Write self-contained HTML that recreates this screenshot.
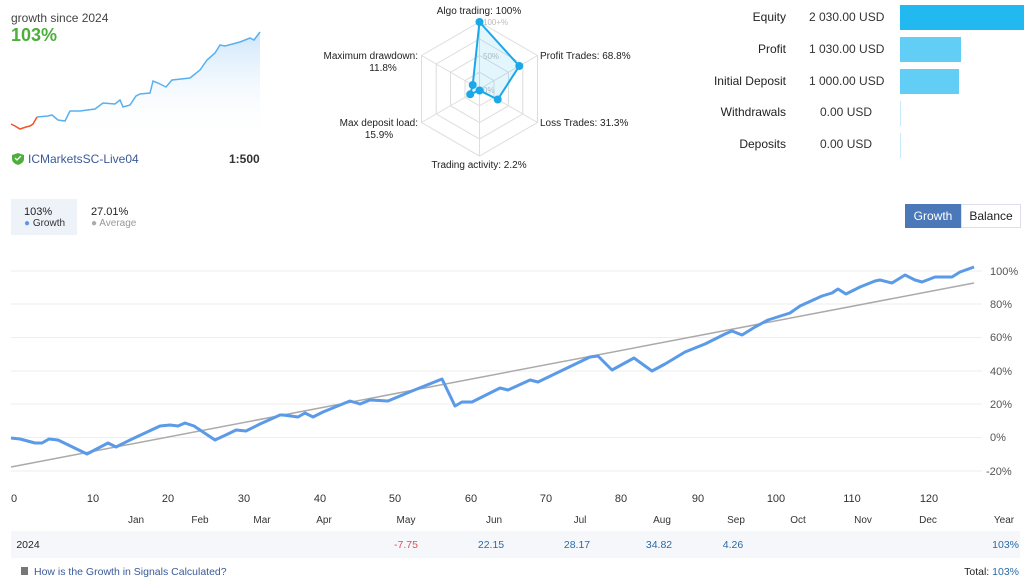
<!DOCTYPE html>
<html><head><meta charset="utf-8"><style>
body{margin:0;width:1024px;height:584px;background:#fff;font-family:"Liberation Sans","DejaVu Sans",sans-serif;color:#222;position:relative;overflow:hidden}
.a{position:absolute;white-space:nowrap}
.r{text-align:right}
</style></head><body>
<div class="a" style="left:11px;top:11px;font-size:12px;color:#444">growth since 2024</div>
<div class="a" style="left:11px;top:25px;font-size:18px;font-weight:bold;color:#4caf3a">103%</div>
<div class="a" style="left:28px;top:152px;font-size:12px;color:#3a5a9a">ICMarketsSC-Live04</div>
<div class="a" style="left:229px;top:152px;font-size:12px;font-weight:bold;color:#333">1:500</div>

<div class="a r" style="left:680px;top:10px;width:106px;font-size:12px">Equity</div>
<div class="a r" style="left:680px;top:42px;width:106px;font-size:12px">Profit</div>
<div class="a r" style="left:680px;top:74px;width:106px;font-size:12px">Initial Deposit</div>
<div class="a r" style="left:680px;top:105px;width:106px;font-size:12px">Withdrawals</div>
<div class="a r" style="left:680px;top:137px;width:106px;font-size:12px">Deposits</div>
<div class="a" style="left:809px;top:10px;font-size:12px;color:#333">2 030.00 USD</div>
<div class="a" style="left:809px;top:42px;font-size:12px;color:#333">1 030.00 USD</div>
<div class="a" style="left:809px;top:74px;font-size:12px;color:#333">1 000.00 USD</div>
<div class="a" style="left:820px;top:105px;font-size:12px;color:#333">0.00 USD</div>
<div class="a" style="left:820px;top:137px;font-size:12px;color:#333">0.00 USD</div>
<div class="a" style="left:900px;top:5px;width:124px;height:25px;background:#22b8f0"></div>
<div class="a" style="left:900px;top:37px;width:61px;height:25px;background:#62cdf5"></div>
<div class="a" style="left:900px;top:69px;width:59px;height:25px;background:#62cdf5"></div>
<div class="a" style="left:900px;top:101px;width:1px;height:25px;background:#c8ecfb"></div>
<div class="a" style="left:900px;top:133px;width:1px;height:25px;background:#c8ecfb"></div>

<div class="a" style="left:905px;top:204px;width:56px;height:24px;background:#4a78b8;color:#fff;font-size:12px;line-height:24px;text-align:center">Growth</div>
<div class="a" style="left:961px;top:204px;width:58px;height:22px;border:1px solid #dde;color:#222;font-size:12px;line-height:22px;text-align:center">Balance</div>

<div class="a" style="left:11px;top:199px;width:66px;height:36px;background:#eef3fa"></div>
<div class="a" style="left:24px;top:206px;font-size:11px">103%</div>
<div class="a" style="left:24px;top:218px;font-size:10px;color:#333"><span style="color:#5a9ae8">●</span> Growth</div>
<div class="a" style="left:91px;top:206px;font-size:11px">27.01%</div>
<div class="a" style="left:91px;top:218px;font-size:10px;color:#999"><span style="color:#aaa">●</span> Average</div>

<svg class="a" style="left:0;top:0" width="1024" height="584" font-family="Liberation Sans, DejaVu Sans, sans-serif">
<defs><linearGradient id="g" x1="0" y1="0" x2="0" y2="1"><stop offset="0" stop-color="#cfe6fa"/><stop offset="1" stop-color="#fff" stop-opacity="0"/></linearGradient></defs>
<path d="M37,117 L48,116 52,115 58,120 65,121 70,111 80,111 95,109 103,103 115,104 120,100 123,107 130,105 136,96 140,94 150,93 153,81 158,83 166,87 172,80 190,78 200,70 207,60 215,53 220,45 225,46 240,42 250,38 254,40 260,32 L260,140 L37,140Z" fill="url(#g)"/>
<polyline points="11,124 15,126 20,129 26,127 30,126 33,124 37,117" fill="none" stroke="#f0522a" stroke-width="1.5"/>
<polyline points="37,117 48,116 52,115 58,120 65,121 70,111 80,111 95,109 103,103 115,104 120,100 123,107 130,105 136,96 140,94 150,93 153,81 158,83 166,87 172,80 190,78 200,70 207,60 215,53 220,45 225,46 240,42 250,38 254,40 260,32" fill="none" stroke="#5ab0ee" stroke-width="1.5"/>
<path d="M12,155 l6,-2 6,2 v4 q0,4 -6,6 q-6,-2 -6,-6z" fill="#4caf3a"/>
<path d="M15,158 l2,2 4,-4" stroke="#fff" stroke-width="1.3" fill="none"/>

<g fill="none" stroke="#ddd" stroke-width="1">
<polygon points="479.5,22 537.5,55.5 537.5,122.5 479.5,156 421.5,122.5 421.5,55.5"/>
<polygon points="479.5,39 522.8,64 522.8,114 479.5,139 436.2,114 436.2,64"/>
<polygon points="479.5,55.5 508.5,72.3 508.5,105.8 479.5,122.5 450.5,105.8 450.5,72.3"/>
<polygon points="479.5,72.25 494,80.6 494,97.4 479.5,105.75 465,97.4 465,80.6"/>
<path d="M479.5,89 L479.5,22 M479.5,89 L537.5,55.5 M479.5,89 L537.5,122.5 M479.5,89 L479.5,156 M479.5,89 L421.5,122.5 M479.5,89 L421.5,55.5"/>
</g>
<g font-size="8" fill="#bbb"><text x="483" y="25">100+%</text><text x="483" y="59">50%</text><text x="483" y="93">0%</text></g>
<polygon points="479.5,22 519.3,66 497.7,99.5 479.5,90.5 470.2,94.3 472.7,85" fill="#22b8f0" fill-opacity="0.12" stroke="#1aa8e8" stroke-width="2"/>
<g fill="#1aa8e8"><circle cx="479.5" cy="22" r="4"/><circle cx="519.3" cy="66" r="4"/><circle cx="497.7" cy="99.5" r="4"/><circle cx="479.5" cy="90.5" r="4"/><circle cx="470.2" cy="94.3" r="4"/><circle cx="472.7" cy="85" r="4"/></g>
<g font-size="10" fill="#222">
<text x="479" y="14" text-anchor="middle">Algo trading: 100%</text>
<text x="540" y="59">Profit Trades: 68.8%</text>
<text x="540" y="126">Loss Trades: 31.3%</text>
<text x="479" y="168" text-anchor="middle">Trading activity: 2.2%</text>
<text x="418" y="59" text-anchor="end">Maximum drawdown:</text>
<text x="383" y="71" text-anchor="middle">11.8%</text>
<text x="418" y="126" text-anchor="end">Max deposit load:</text>
<text x="379" y="138" text-anchor="middle">15.9%</text>
</g>

<g stroke="#eee" stroke-width="1">
<line x1="11" y1="271" x2="982" y2="271"/><line x1="11" y1="304" x2="982" y2="304"/><line x1="11" y1="337.5" x2="982" y2="337.5"/><line x1="11" y1="371" x2="982" y2="371"/><line x1="11" y1="404" x2="982" y2="404"/><line x1="11" y1="437.5" x2="982" y2="437.5"/><line x1="11" y1="471" x2="982" y2="471"/>
</g>
<g font-size="11" fill="#555">
<text x="990" y="275">100%</text><text x="990" y="308">80%</text><text x="990" y="341">60%</text><text x="990" y="375">40%</text><text x="990" y="408">20%</text><text x="990" y="441">0%</text><text x="986" y="475">-20%</text>
</g>
<line x1="11" y1="467" x2="974" y2="283" stroke="#aaa" stroke-width="1.5"/>
<polyline fill="none" stroke="#5a9ae8" stroke-width="3" stroke-linejoin="round" points="11,438 20,439 35,443 42,443 49,439 58,440 87,454 108,443 116,447 130,440 160,426 170,425 178,426 185,423 194,426 215,440 230,433 236,430 246,431 260,424 280,415 283,415 298,417 305,413 313,417 323,412 345,403 350,401 360,404 370,400 388,401 412,391 437,381 442,379 455,406 462,402 472,402 500,388 508,390 530,380 538,382 590,357 598,356 612,370 634,358 652,371 665,364 685,352 705,344 725,334 732,331 742,335 755,327 768,320 790,313 800,306 822,296 832,293 838,289 846,294 860,287 875,281 880,280 892,283 905,275 915,280 922,282 935,277 952,277 960,272 974,267"/>
<g font-size="11" fill="#333" text-anchor="middle">
<text x="14" y="502">0</text><text x="93" y="502">10</text><text x="168" y="502">20</text><text x="244" y="502">30</text><text x="320" y="502">40</text><text x="395" y="502">50</text><text x="471" y="502">60</text><text x="546" y="502">70</text><text x="621" y="502">80</text><text x="698" y="502">90</text><text x="776" y="502">100</text><text x="852" y="502">110</text><text x="929" y="502">120</text>
</g>
<g font-size="10" fill="#333" text-anchor="middle">
<text x="136" y="523">Jan</text><text x="200" y="523">Feb</text><text x="262" y="523">Mar</text><text x="324" y="523">Apr</text><text x="406" y="523">May</text><text x="494" y="523">Jun</text><text x="580" y="523">Jul</text><text x="662" y="523">Aug</text><text x="736" y="523">Sep</text><text x="798" y="523">Oct</text><text x="863" y="523">Nov</text><text x="928" y="523">Dec</text><text x="1004" y="523">Year</text>
</g>
<rect x="11" y="531" width="1009" height="27" fill="#f5f7fb"/>
<g font-size="10.5" text-anchor="middle">
<text x="28" y="548" fill="#222">2024</text>
<text x="406" y="548" fill="#d9534f">-7.75</text>
<text x="491" y="548" fill="#2a6aa8">22.15</text>
<text x="577" y="548" fill="#2a6aa8">28.17</text>
<text x="659" y="548" fill="#2a6aa8">34.82</text>
<text x="733" y="548" fill="#2a6aa8">4.26</text>
<text x="1019" y="548" fill="#2a6aa8" text-anchor="end">103%</text>
</g>
<rect x="21" y="567" width="7" height="8" fill="#777"/>
<text x="34" y="575" font-size="10.5" fill="#3a5a9a">How is the Growth in Signals Calculated?</text>
<text x="1019" y="575" font-size="10.5" fill="#222" text-anchor="end">Total: <tspan fill="#2a6aa8">103%</tspan></text>
</svg>
</body></html>
